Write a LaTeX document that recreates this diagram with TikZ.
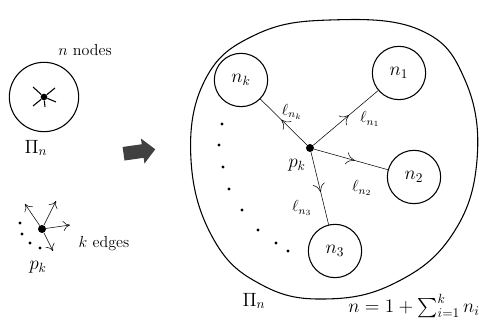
\documentclass[tikz,border=0pt]{standalone}
\usepackage{amsmath,amssymb}
\usepackage{tikz}
\usetikzlibrary{arrows.meta,shapes.arrows,decorations.markings}

\begin{document}
\begin{tikzpicture}[
			x=0.75pt,y=-0.75pt,
			part/.style={draw,thick,circle,minimum size=40pt,inner sep=0pt,font=\Large},
			hub/.style={fill,circle,inner sep=0pt,minimum size=6pt},
			edge/.style={thin,postaction={decorate},decoration={markings,mark=at position 0.55 with {\arrow{To[length=2.2mm,width=3.2mm]}}}},
			leg/.style={-{To[length=1.8mm,width=2.6mm]}},
			tick/.style={thick},
			spot/.style={fill,circle,inner sep=0pt,minimum size=2.4pt},
			lbl/.style={font=\large}
			]
			\useasboundingbox (0,0) rectangle (479,323);
			% left: one tree with n nodes
			\node[draw,thick,circle,minimum size=52pt] (tree) at (44,97) {};
			\node[hub,minimum size=5pt] (root) at (44,97) {};
			\coordinate (t1) at (33,87);
			\coordinate (t2) at (55,88);
			\coordinate (t3) at (56,102);
			\coordinate (t4) at (33,106);
			\coordinate (t5) at (45,107);
			\foreach \t in {t1,t2,t3,t4,t5} \draw[tick] (root)--(\t);
			\node[lbl] (nnodes) at (85,50) {$n$ nodes};
			\node[font=\Large] (pil) at (36,148) {$\Pi_n$};
			% arrow
			\node[single arrow,fill=black!75,minimum height=24pt,minimum width=19pt,single arrow head extend=3pt,rotate=8] (go) at (136,152) {};
			% left: root with k edges
			\node[hub] (pks) at (42,229) {};
			\coordinate (e1) at (25,204);
			\coordinate (e2) at (56,201);
			\coordinate (e3) at (70,225);
			\coordinate (e4) at (53,251);
			\foreach \e in {e1,e2,e3,e4} \draw[leg] (pks)--(\e);
			\foreach \p in {(20,223),(22,234),(30,243),(40,248)} \node[spot] at \p {};
			\node[lbl] (kedges) at (104,244) {$k$ edges};
			\node[font=\Large] (pkl) at (38,267) {$p_k$};
			% right: the big tree
			\draw[thick] plot[smooth cycle,tension=0.7] coordinates {(330,20) (420,30) (465,80) (477,160) (452,235) (395,283) (325,299) (262,285) (214,240) (191,160) (205,80) (255,35)};
			\node[hub] (pk) at (310,148) {};
			\node[part] (nk) at (241,80) {$n_k$};
			\node[part] (n1) at (399,73) {$n_1$};
			\node[part] (n2) at (414,177) {$n_2$};
			\node[part] (n3) at (335,251) {$n_3$};
			\draw[edge] (pk)--(nk);
			\draw[edge] (pk)--(n1);
			\draw[edge] (pk)--(n2);
			\draw[edge] (pk)--(n3);
			\node[lbl] (lk) at (292,112) {$\ell_{n_k}$};
			\node[lbl] (l1) at (370,119) {$\ell_{n_1}$};
			\node[lbl] (l2) at (362,188) {$\ell_{n_2}$};
			\node[lbl] (l3) at (302,208) {$\ell_{n_3}$};
			\node[font=\Large] (pkr) at (297,165) {$p_k$};
			\foreach \p in {(222,124),(219,145),(223,167),(229,189),(242,210),(258,230),(276,243),(288,251)} \node[spot] at \p {};
			\node[font=\Large] (pir) at (254,301) {$\Pi_n$};
			\node[font=\Large] (sum) at (414,306) {$n=1+\sum_{i=1}^{k} n_i$};
		\end{tikzpicture}
\end{document}
